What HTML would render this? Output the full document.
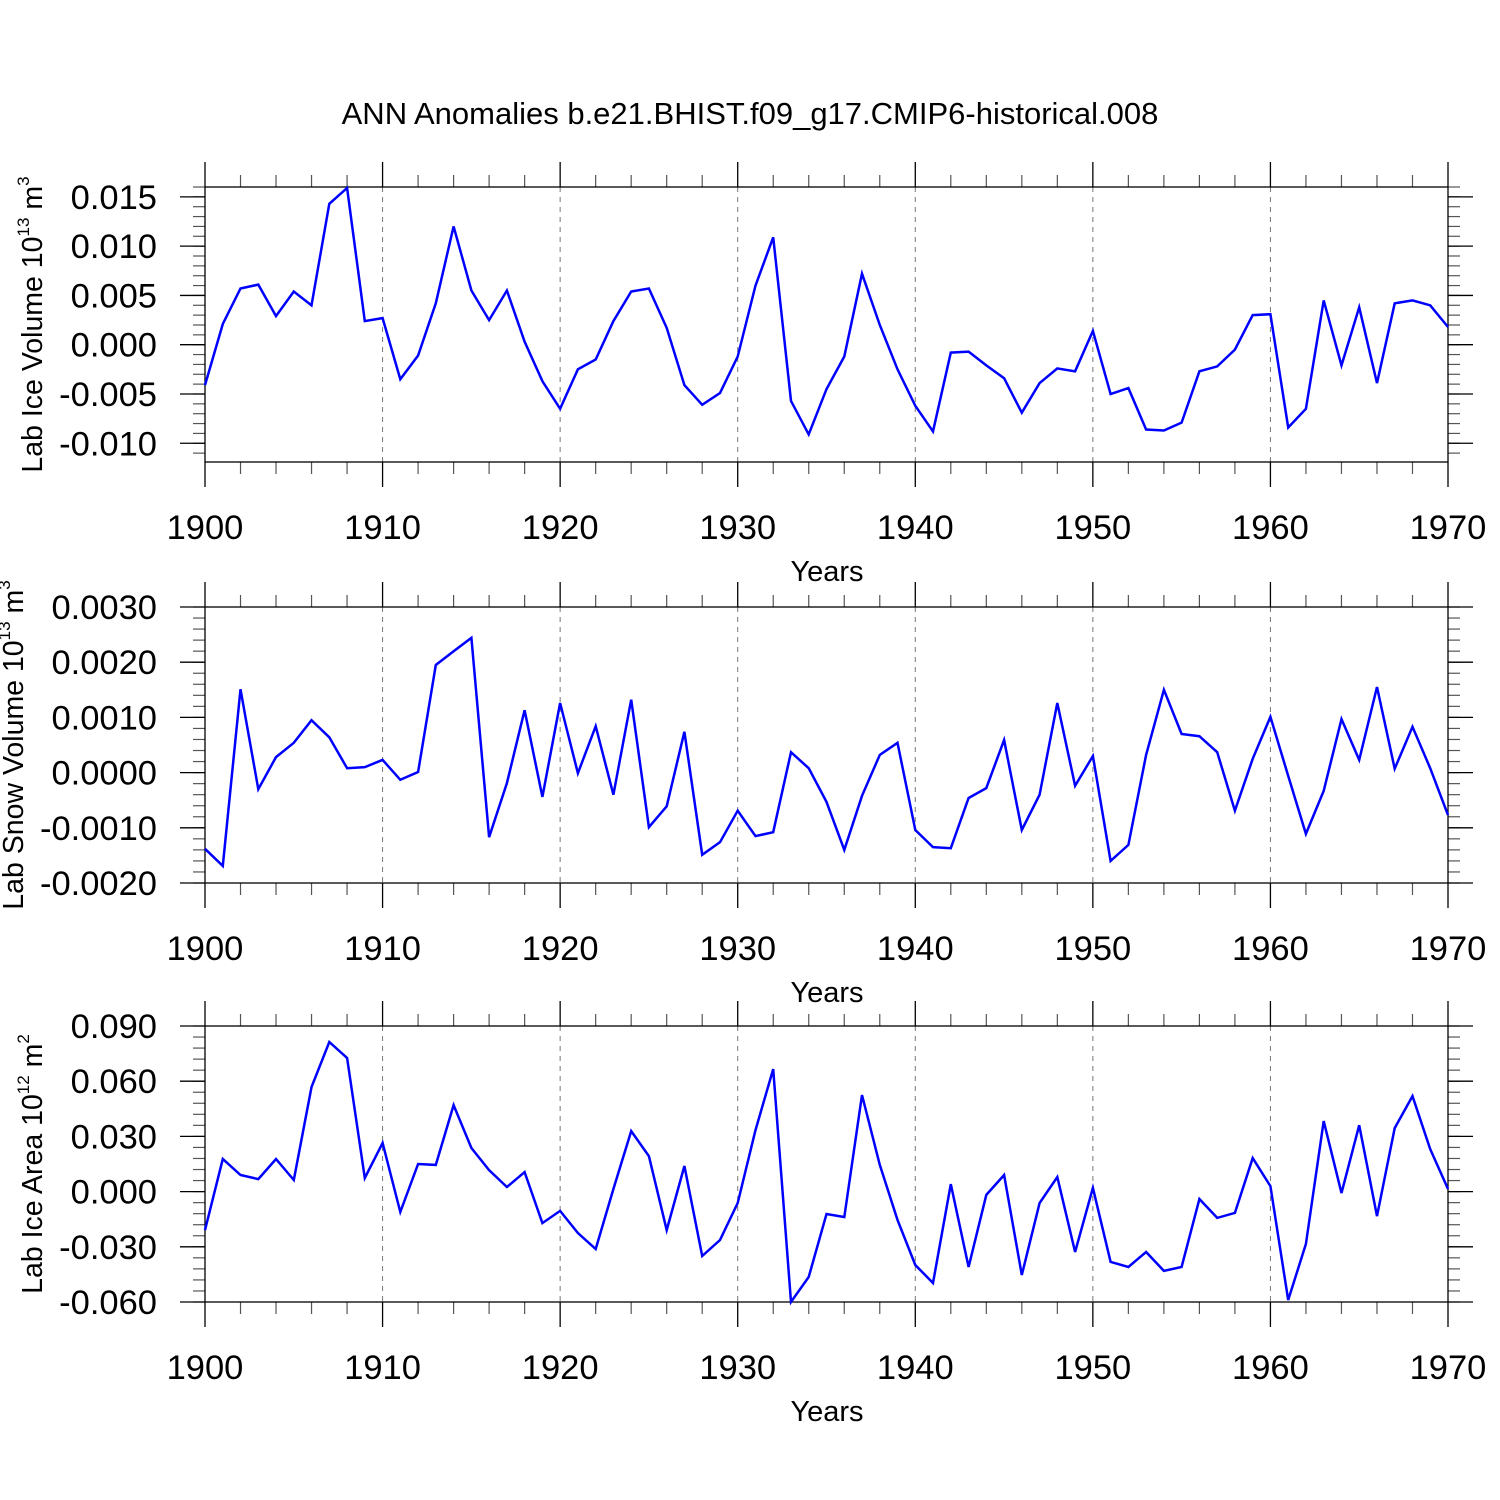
<!DOCTYPE html>
<html><head><meta charset="utf-8"><style>body{margin:0;background:#fff}svg{display:block}</style></head>
<body>
<svg id="c" width="1500" height="1500" xmlns="http://www.w3.org/2000/svg" font-family="Liberation Sans, sans-serif">
<text x="750" y="124" text-anchor="middle" font-size="31">ANN Anomalies b.e21.BHIST.f09_g17.CMIP6-historical.008</text>
</svg>
<script>
const years = [];
for (let y = 1900; y <= 1970; y++) years.push(y);
const iceVolume = [-0.0041,0.0021,0.0057,0.0061,0.0029,0.0054,0.0040,0.0143,0.0159,0.0024,0.0027,-0.0035,-0.0011,0.0042,0.0120,0.0055,0.0025,0.0055,0.0003,-0.0037,-0.0065,-0.0025,-0.0015,0.0024,0.0054,0.0057,0.0017,-0.0041,-0.0061,-0.0049,-0.0012,0.0060,0.0109,-0.0057,-0.0091,-0.0045,-0.0012,0.0072,0.0020,-0.0025,-0.0062,-0.0088,-0.0008,-0.0007,-0.0021,-0.0034,-0.0069,-0.0039,-0.0024,-0.0027,0.0014,-0.0050,-0.0044,-0.0086,-0.0087,-0.0079,-0.0027,-0.0022,-0.0005,0.0030,0.0031,-0.0084,-0.0065,0.0045,-0.0021,0.0038,-0.0039,0.0042,0.0045,0.0040,0.0018];
const snowVolume = [-0.00138,-0.00169,0.00151,-0.00030,0.00028,0.00054,0.00095,0.00064,0.00008,0.00010,0.00023,-0.00013,0.00001,0.00195,0.00220,0.00244,-0.00117,-0.00019,0.00113,-0.00044,0.00126,-0.00001,0.00084,-0.00040,0.00132,-0.00099,-0.00061,0.00074,-0.00149,-0.00126,-0.00069,-0.00115,-0.00108,0.00037,0.00008,-0.00053,-0.00140,-0.00042,0.00032,0.00054,-0.00104,-0.00135,-0.00137,-0.00046,-0.00028,0.00059,-0.00104,-0.00040,0.00126,-0.00024,0.00030,-0.00160,-0.00131,0.00032,0.00150,0.00070,0.00066,0.00037,-0.00069,0.00025,0.00101,-0.00006,-0.00111,-0.00033,0.00097,0.00023,0.00155,0.00007,0.00083,0.00008,-0.00077];
const iceArea = [-0.0209,0.0177,0.0090,0.0068,0.0177,0.0063,0.0568,0.0813,0.0726,0.0074,0.0264,-0.0111,0.0150,0.0145,0.0470,0.0237,0.0117,0.0025,0.0106,-0.0171,-0.0105,-0.0225,-0.0312,0.0014,0.0329,0.0193,-0.0209,0.0139,-0.0350,-0.0263,-0.0062,0.0334,0.0666,-0.0600,-0.0464,-0.0122,-0.0138,0.0525,0.0145,-0.0154,-0.0399,-0.0497,0.0041,-0.0410,-0.0018,0.0090,-0.0453,-0.0062,0.0079,-0.0328,0.0020,-0.0382,-0.0410,-0.0328,-0.0431,-0.0410,-0.0040,-0.0143,-0.0116,0.0182,0.0030,-0.0589,-0.0285,0.0383,-0.0008,0.0361,-0.0133,0.0345,0.0519,0.0231,0.0014];
const xTicks = [1900,1910,1920,1930,1940,1950,1960,1970];
const ticks1 = [-0.010,-0.005,0.000,0.005,0.010,0.015];
const ticks1Labels = ["-0.010","-0.005","0.000","0.005","0.010","0.015"];
const ticks2 = [-0.0020,-0.0010,0.0000,0.0010,0.0020,0.0030];
const ticks2Labels = ["-0.0020","-0.0010","0.0000","0.0010","0.0020","0.0030"];
const ticks3 = [-0.060,-0.030,0.000,0.030,0.060,0.090];
const ticks3Labels = ["-0.060","-0.030","0.000","0.030","0.060","0.090"];

const svg = document.getElementById('c');
const NS = 'http://www.w3.org/2000/svg';
function mk(tag, attrs, parent) {
  const e = document.createElementNS(NS, tag);
  for (const k in attrs) e.setAttribute(k, attrs[k]);
  (parent || svg).appendChild(e);
  return e;
}
const X0 = 205, X1 = 1448;
function xs(yr) { return X0 + (yr - 1900) / 70 * (X1 - X0); }

function panel(name, top, bottom, vmin, vmax, minorStep, ticks, labels, data, titleParts, titleX) {
  const g = mk('g', {});
  
  
  const ys = v => bottom - (v - vmin) / (vmax - vmin) * (bottom - top);
  for (const t of xTicks) {
    if (t === 1900 || t === 1970) continue;
    const l = mk('line', {x1: xs(t), x2: xs(t), y1: top, y2: bottom, stroke: '#777', 'stroke-width': 1, 'stroke-dasharray': '5,5'}, g);
    
    
  }
  for (let yr = 1900; yr <= 1970; yr += 2) {
    if (yr % 10 === 0) continue;
    mk('line', {x1: xs(yr), x2: xs(yr), y1: top, y2: top - 12, stroke: '#555', 'stroke-width': 1.2}, g);
    mk('line', {x1: xs(yr), x2: xs(yr), y1: bottom, y2: bottom + 12, stroke: '#555', 'stroke-width': 1.2}, g);
  }
  for (const t of xTicks) {
    mk('line', {x1: xs(t), x2: xs(t), y1: top, y2: top - 25, stroke: '#000', 'stroke-width': 1.3}, g);
    mk('line', {x1: xs(t), x2: xs(t), y1: bottom, y2: bottom + 25, stroke: '#000', 'stroke-width': 1.3}, g);
    const tx = mk('text', {x: xs(t), y: bottom + 77, 'text-anchor': 'middle', 'font-size': 34.5}, g);
    tx.textContent = t;
    
    
  }
  const n0 = Math.ceil(vmin / minorStep - 1e-6), n1 = Math.floor(vmax / minorStep + 1e-6);
  for (let i = n0; i <= n1; i++) {
    const y = ys(i * minorStep);
    mk('line', {x1: X0, x2: X0 - 12, y1: y, y2: y, stroke: '#555', 'stroke-width': 1.2}, g);
    mk('line', {x1: X1, x2: X1 + 12, y1: y, y2: y, stroke: '#555', 'stroke-width': 1.2}, g);
  }
  ticks.forEach((t, i) => {
    const y = ys(t);
    mk('line', {x1: X0, x2: X0 - 25, y1: y, y2: y, stroke: '#000', 'stroke-width': 1.3}, g);
    mk('line', {x1: X1, x2: X1 + 25, y1: y, y2: y, stroke: '#000', 'stroke-width': 1.3}, g);
    const tx = mk('text', {x: 157, y: y + 12, 'text-anchor': 'end', 'font-size': 34.5}, g);
    tx.textContent = labels[i];
    
    
  });
  const fr = mk('rect', {x: X0, y: top, width: X1 - X0, height: bottom - top, fill: 'none', stroke: '#000', 'stroke-width': 1.3}, g);
  
  
  const pts = data.map((v, i) => xs(years[i]).toFixed(1) + ',' + ys(v).toFixed(1)).join(' ');
  const pl = mk('polyline', {points: pts, fill: 'none', stroke: '#0000ff', 'stroke-width': 2.5, 'stroke-linejoin': 'miter'}, g);
  
  
  const xt = mk('text', {x: 827, y: bottom + 119, 'text-anchor': 'middle', 'font-size': 29}, g);
  xt.textContent = 'Years';
  
  
  const cy = (top + bottom) / 2;
  const yt = mk('text', {x: 0, y: 0, 'text-anchor': 'middle', 'font-size': 28.5, transform: `translate(${titleX},${cy}) rotate(-90)`}, g);
  
  
  const t1 = mk('tspan', {}, yt); t1.textContent = titleParts[0];
  const t2 = mk('tspan', {dy: -13, 'font-size': 17}, yt); t2.textContent = titleParts[1];
  const t3 = mk('tspan', {dy: 13}, yt); t3.textContent = ' m';
  const t4 = mk('tspan', {dy: -13, 'font-size': 17}, yt); t4.textContent = titleParts[2];
}
panel('ice-volume', 187, 462, -0.0119, 0.0160, 0.001, ticks1, ticks1Labels, iceVolume, ['Lab Ice Volume 10', '13', '3'], 42);
panel('snow-volume', 607, 883, -0.0020, 0.0030, 0.0002, ticks2, ticks2Labels, snowVolume, ['Lab Snow Volume 10', '13', '3'], 23);
panel('ice-area', 1026, 1302, -0.060, 0.090, 0.006, ticks3, ticks3Labels, iceArea, ['Lab Ice Area 10', '12', '2'], 42);
</script>
</body></html>
